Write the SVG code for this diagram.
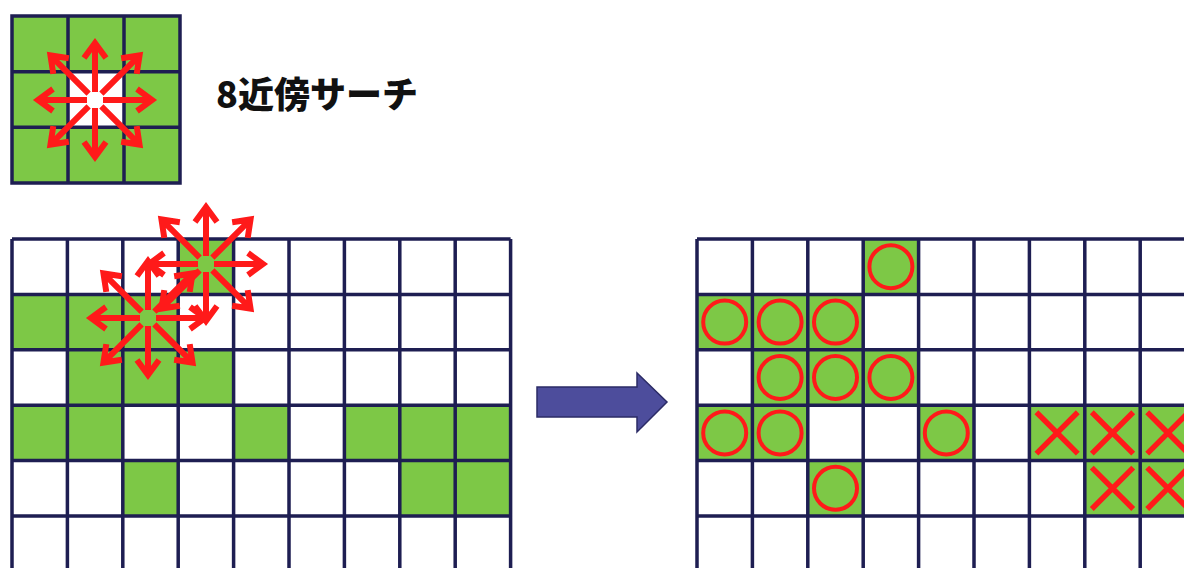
<svg xmlns="http://www.w3.org/2000/svg" xmlns:xlink="http://www.w3.org/1999/xlink" width="1184" height="568" viewBox="0 0 1184 568">
<style>
.g{fill:#7dc846}
.w{fill:#ffffff}
.ln{fill:none;stroke:#1e1e52;stroke-width:3.5}
.ra{fill:none;stroke:#ff1a1a;stroke-width:6;stroke-linejoin:miter;stroke-linecap:butt}
.ci{fill:none;stroke:#ff1a1a;stroke-width:4}
.x{fill:none;stroke:#ff1a1a;stroke-width:5.5}
.t{font-family:"Noto Sans CJK JP","Noto Sans",sans-serif;font-weight:900;font-size:36px;fill:#111111}
</style>
<defs>
<path id="arrO" d="M0,-8 V-55 M-11,-42 L0,-57 L11,-42"/>
<path id="arrD" d="M0,-9 V-61 M-11,-48 L0,-63 L11,-48"/>
<g id="star" class="ra">
<use xlink:href="#arrO"/>
<use xlink:href="#arrO" transform="rotate(90)"/>
<use xlink:href="#arrO" transform="rotate(180)"/>
<use xlink:href="#arrO" transform="rotate(270)"/>
<use xlink:href="#arrD" transform="rotate(45)"/>
<use xlink:href="#arrD" transform="rotate(135)"/>
<use xlink:href="#arrD" transform="rotate(225)"/>
<use xlink:href="#arrD" transform="rotate(315)"/>
</g>
<g id="circ"><circle cx="27.7" cy="27.7" r="21.5" class="ci"/></g>
<g id="cross"><path class="x" d="M7,7 L48.4,48.4 M48.4,7 L7,48.4"/></g>
</defs>
<rect width="1184" height="568" fill="#ffffff"/>

<g id="small-grid">
<rect x="12" y="16" width="168" height="167" class="g"/>
<rect x="68" y="71.7" width="56" height="55.7" class="w"/>
<path class="ln" d="M12,16 H180 V183 H12 Z M68,16 V183 M124,16 V183 M12,71.7 H180 M12,127.3 H180"/>
</g>

<g id="title">
<text x="216" y="108" class="t">8近傍サーチ</text>
</g>

<g id="left-grid" transform="translate(12,239)">
<rect x="0" y="0" width="498.6" height="340" class="w"/>
<rect x="166.2" y="0" width="55.4" height="55.4" class="g"/>
<rect x="0" y="55.4" width="166.2" height="55.4" class="g"/>
<rect x="55.4" y="110.8" width="166.2" height="55.4" class="g"/>
<rect x="0" y="166.2" width="110.8" height="55.4" class="g"/>
<rect x="221.6" y="166.2" width="55.4" height="55.4" class="g"/>
<rect x="332.4" y="166.2" width="166.2" height="55.4" class="g"/>
<rect x="110.8" y="221.6" width="55.4" height="55.4" class="g"/>
<rect x="387.8" y="221.6" width="110.8" height="55.4" class="g"/>
<path class="ln" d="M0,0 V340 M55.4,0 V340 M110.8,0 V340 M166.2,0 V340 M221.6,0 V340 M277,0 V340 M332.4,0 V340 M387.8,0 V340 M443.2,0 V340 M498.6,0 V340 M0,0 H498.6 M0,55.4 H498.6 M0,110.8 H498.6 M0,166.2 H498.6 M0,221.6 H498.6 M0,277 H498.6"/>
</g>

<g id="right-grid" transform="translate(697,239)">
<rect x="0" y="0" width="560" height="340" class="w"/>
<rect x="166.2" y="0" width="55.4" height="55.4" class="g"/>
<rect x="0" y="55.4" width="166.2" height="55.4" class="g"/>
<rect x="55.4" y="110.8" width="166.2" height="55.4" class="g"/>
<rect x="0" y="166.2" width="110.8" height="55.4" class="g"/>
<rect x="221.6" y="166.2" width="55.4" height="55.4" class="g"/>
<rect x="332.4" y="166.2" width="166.2" height="55.4" class="g"/>
<rect x="110.8" y="221.6" width="55.4" height="55.4" class="g"/>
<rect x="387.8" y="221.6" width="110.8" height="55.4" class="g"/>
<path class="ln" d="M0,0 V340 M55.4,0 V340 M110.8,0 V340 M166.2,0 V340 M221.6,0 V340 M277,0 V340 M332.4,0 V340 M387.8,0 V340 M443.2,0 V340 M498.6,0 V340 M0,0 H560 M0,55.4 H560 M0,110.8 H560 M0,166.2 H560 M0,221.6 H560 M0,277 H560"/>
<use xlink:href="#circ" x="166.2" y="0"/>
<use xlink:href="#circ" x="0" y="55.4"/>
<use xlink:href="#circ" x="55.4" y="55.4"/>
<use xlink:href="#circ" x="110.8" y="55.4"/>
<use xlink:href="#circ" x="55.4" y="110.8"/>
<use xlink:href="#circ" x="110.8" y="110.8"/>
<use xlink:href="#circ" x="166.2" y="110.8"/>
<use xlink:href="#circ" x="0" y="166.2"/>
<use xlink:href="#circ" x="55.4" y="166.2"/>
<use xlink:href="#circ" x="221.6" y="166.2"/>
<use xlink:href="#circ" x="110.8" y="221.6"/>
<use xlink:href="#cross" x="332.4" y="166.2"/>
<use xlink:href="#cross" x="387.8" y="166.2"/>
<use xlink:href="#cross" x="443.2" y="166.2"/>
<use xlink:href="#cross" x="387.8" y="221.6"/>
<use xlink:href="#cross" x="443.2" y="221.6"/>
</g>

<g id="connectors">
<use xlink:href="#star" transform="translate(95,100)"/>
<use xlink:href="#star" transform="translate(148,318)"/>
<use xlink:href="#star" transform="translate(206,264)"/>
<polygon points="537,387 637,387 637,373 667,402 637,432 637,417 537,417" fill="#4d4d9c" stroke="#2b2b66" stroke-width="1.5"/>
</g>
</svg>
